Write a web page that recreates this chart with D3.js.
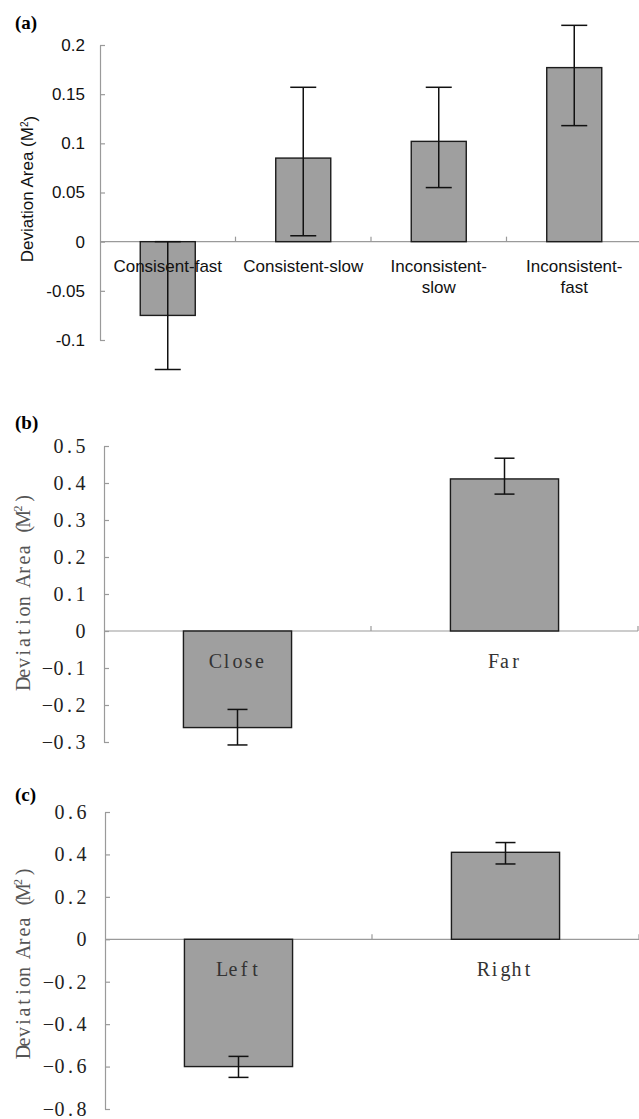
<!DOCTYPE html>
<html>
<head>
<meta charset="utf-8">
<script src="https://cdn.jsdelivr.net/npm/d3@7"></script>
<style>
  body { margin: 0; background: #fff; }
  svg { display: block; }
</style>
</head>
<body>
<div id="chart"></div>
<script>

// ---- panel (a) data ----
var catsA = ["Consisent-fast", "Consistent-slow", "Inconsistent-slow", "Inconsistent-fast"];
var labelsA = [["Consisent-fast"], ["Consistent-slow"], ["Inconsistent-", "slow"], ["Inconsistent-", "fast"]];
var meansA = [-0.075, 0.085, 0.102, 0.177];
var lowA = [-0.130, 0.006, 0.055, 0.118];
var highA = [0.0, 0.157, 0.157, 0.220];
var ticksA = [-0.1, -0.05, 0, 0.05, 0.1, 0.15, 0.2];
var tickLabelsA = ["-0.1", "-0.05", "0", "0.05", "0.1", "0.15", "0.2"];

// ---- panel (b) data ----
var catsB = ["Close", "Far"];
var meansB = [-0.261, 0.411];
var lowB = [-0.308, 0.370];
var highB = [-0.212, 0.467];
var ticksB = [-0.3, -0.2, -0.1, 0, 0.1, 0.2, 0.3, 0.4, 0.5];
var tickLabelsB = ["\u22120.3", "\u22120.2", "\u22120.1", "0", "0.1", "0.2", "0.3", "0.4", "0.5"];

// ---- panel (c) data ----
var catsC = ["Left", "Right"];
var meansC = [-0.600, 0.410];
var lowC = [-0.651, 0.355];
var highC = [-0.552, 0.456];
var ticksC = [-0.8, -0.6, -0.4, -0.2, 0, 0.2, 0.4, 0.6];
var tickLabelsC = ["\u22120.8", "\u22120.6", "\u22120.4", "\u22120.2", "0", "0.2", "0.4", "0.6"];

var yTitle = "Deviation Area (M2)";

var W = 639, H = 1119;
var sansFont = "'Liberation Sans', Arial, sans-serif";
var serifFont = "'Liberation Serif', 'DejaVu Serif', serif";

var svg = d3.select("#chart")
  .append("svg")
    .attr("width", W)
    .attr("height", H);

// lay out each character in its own fixed-width cell (mimics the mono CJK font)
function cellText(parent, str, cx, y, adv) {
  var n = str.length;
  var xs = [];
  for (var i = 0; i < n; i++) xs.push(cx - n * adv / 2 + adv * (i + 0.5));
  return parent.append("text")
    .attr("x", xs.join(" "))
    .attr("y", y)
    .attr("text-anchor", "middle")
    .text(str);
}

function drawPanel(cfg) {

  var x = d3.scaleBand()
    .domain(cfg.cats)
    .range(cfg.xRange)
    .paddingInner(0)
    .paddingOuter(0);

  var y = d3.scaleLinear()
    .domain(cfg.yDomain)
    .range(cfg.yRange);

  var g = svg.append("g");

  // y axis, ticks pointing inwards
  var yAxis = g.append("g")
    .attr("transform", "translate(" + cfg.xRange[0] + ",0)")
    .call(d3.axisLeft(y)
      .tickValues(cfg.ticks)
      .tickFormat(function(d, i) { return cfg.tickLabels[i]; })
      .tickSizeInner(-5)
      .tickSizeOuter(0)
      .tickPadding(cfg.tickPadding));

  yAxis.select(".domain").attr("stroke", "#9a9a9a").attr("stroke-width", 1.2);
  yAxis.selectAll(".tick line").attr("stroke", "#9a9a9a").attr("stroke-width", 1.2);
  yAxis.selectAll(".tick text")
    .attr("font-family", cfg.font)
    .attr("font-size", cfg.tickFont)
    .attr("fill", cfg.tickColor);

  if (cfg.mono) {
    // re-space tick labels as fixed-width cells, right-aligned
    yAxis.selectAll(".tick text").each(function() {
      var t = d3.select(this);
      var s = t.text();
      var right = -cfg.tickPadding;
      var xs = [];
      for (var i = 0; i < s.length; i++) xs.push(right - cfg.adv * (s.length - i - 0.5));
      t.attr("x", xs.join(" ")).attr("text-anchor", "middle");
    });
  }

  // zero line with category separators
  var y0 = y(0);
  g.append("line")
    .attr("x1", cfg.xRange[0])
    .attr("x2", cfg.xRange[1])
    .attr("y1", y0)
    .attr("y2", y0)
    .attr("stroke", "#9a9a9a")
    .attr("stroke-width", 1.2);

  for (var k = 1; k <= cfg.cats.length; k++) {
    var bx = cfg.xRange[0] + x.step() * k;
    g.append("line")
      .attr("x1", bx).attr("x2", bx)
      .attr("y1", y0).attr("y2", y0 - 5)
      .attr("stroke", "#9a9a9a")
      .attr("stroke-width", 1.2);
  }

  var bw = x.bandwidth() * cfg.barFrac;

  // bars
  g.selectAll(".bar")
    .data(cfg.means)
    .enter()
    .append("rect")
      .attr("class", "bar")
      .attr("x", function(d, i) { return x(cfg.cats[i]) + (x.bandwidth() - bw) / 2; })
      .attr("y", function(d) { return y(Math.max(0, d)); })
      .attr("width", bw)
      .attr("height", function(d) { return Math.abs(y(d) - y(0)); })
      .attr("fill", "#9f9f9f")
      .attr("stroke", "#1c1c1c")
      .attr("stroke-width", 1.4);

  // error bars
  cfg.cats.forEach(function(c, i) {
    var cx = x(c) + x.bandwidth() / 2;
    var e = g.append("g")
      .attr("stroke", "#111")
      .attr("stroke-width", 1.5);
    e.append("line")
      .attr("x1", cx).attr("x2", cx)
      .attr("y1", y(cfg.low[i])).attr("y2", y(cfg.high[i]));
    [cfg.low[i], cfg.high[i]].forEach(function(v) {
      e.append("line")
        .attr("x1", cx - cfg.cap / 2).attr("x2", cx + cfg.cap / 2)
        .attr("y1", y(v)).attr("y2", y(v));
    });
  });

  // category labels
  cfg.cats.forEach(function(c, i) {
    var cx = x(c) + x.bandwidth() / 2;
    if (cfg.mono) {
      cellText(g, cfg.labels[i][0], cx, y0 + cfg.labelOffset, cfg.adv)
        .attr("dy", "0.35em")
        .attr("font-family", cfg.font)
        .attr("font-size", cfg.labelFont)
        .attr("fill", "#333");
    } else {
      cfg.labels[i].forEach(function(line, j) {
        g.append("text")
          .attr("x", cx)
          .attr("y", y0 + cfg.labelOffset + j * 21)
          .attr("dy", "0.35em")
          .attr("text-anchor", "middle")
          .attr("font-family", cfg.font)
          .attr("font-size", cfg.labelFont)
          .attr("fill", "#111")
          .text(line);
      });
    }
  });

  // y axis title
  var tg = g.append("g")
    .attr("transform", "translate(" + cfg.titlePos[0] + "," + cfg.titlePos[1] + ") rotate(-90)");
  if (cfg.mono) {
    var n = yTitle.length;
    var tt = tg.append("text")
      .attr("font-family", cfg.font)
      .attr("font-size", cfg.titleFont)
      .attr("fill", "#555")
      .attr("text-anchor", "middle");
    for (var i = 0; i < n; i++) {
      var ch = yTitle[i];
      var sup = (ch === "2");
      tt.append("tspan")
        .attr("x", -n * cfg.titleAdv / 2 + cfg.titleAdv * (i + 0.5))
        .attr("y", sup ? -1 : 7)
        .attr("font-size", sup ? 12 : cfg.titleFont)
        .text(ch);
    }
  } else {
    var t2 = tg.append("text")
      .attr("text-anchor", "middle")
      .attr("dy", "0.35em")
      .attr("font-family", cfg.font)
      .attr("font-size", cfg.titleFont)
      .attr("fill", "#111");
    t2.append("tspan").text("Deviation Area (M");
    t2.append("tspan").attr("dy", "-0.45em").attr("font-size", 10).text("2");
    t2.append("tspan").attr("dy", "0.45em").text(")");
  }

  // panel letter
  svg.append("text")
    .attr("x", 15)
    .attr("y", cfg.letterY)
    .attr("font-family", serifFont)
    .attr("font-weight", "bold")
    .attr("font-size", 19)
    .attr("fill", "#000")
    .text(cfg.letter);
}

drawPanel({
  letter: "(a)", letterY: 29,
  cats: catsA, labels: labelsA, means: meansA, low: lowA, high: highA,
  ticks: ticksA, tickLabels: tickLabelsA,
  xRange: [100, 642], yDomain: [-0.1, 0.2], yRange: [340, 45],
  font: sansFont, mono: false, tickFont: 17, tickColor: "#111", tickPadding: 15,
  labelFont: 17, labelOffset: 24, barFrac: 0.406, cap: 26,
  titleFont: 17, titlePos: [27, 189]
});

drawPanel({
  letter: "(b)", letterY: 429,
  cats: catsB, labels: [["Close"], ["Far"]], means: meansB, low: lowB, high: highB,
  ticks: ticksB, tickLabels: tickLabelsB,
  xRange: [104, 638], yDomain: [-0.3, 0.5], yRange: [742, 446],
  font: serifFont, mono: true, adv: 11, tickFont: 20, tickColor: "#222", tickPadding: 18,
  labelFont: 20, labelOffset: 30, barFrac: 0.405, cap: 20,
  titleFont: 20, titleAdv: 10.3, titlePos: [23, 591]
});

drawPanel({
  letter: "(c)", letterY: 801,
  cats: catsC, labels: [["Left"], ["Right"]], means: meansC, low: lowC, high: highC,
  ticks: ticksC, tickLabels: tickLabelsC,
  xRange: [105, 639], yDomain: [-0.8, 0.6], yRange: [1109, 812],
  font: serifFont, mono: true, adv: 11, tickFont: 20, tickColor: "#222", tickPadding: 18,
  labelFont: 20, labelOffset: 30, barFrac: 0.405, cap: 20,
  titleFont: 20, titleAdv: 10, titlePos: [23, 962]
});

</script>
</body>
</html>
